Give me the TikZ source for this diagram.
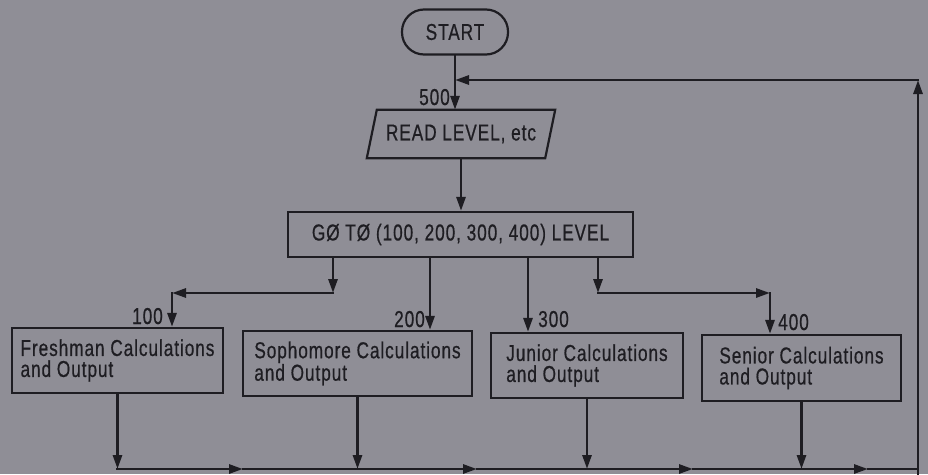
\documentclass[tikz,border=0pt]{standalone}
\usepackage{fontspec}
\setmainfont{Liberation Sans}[FakeStretch=0.75,FakeBold=0.6,LetterSpace=4]
\usetikzlibrary{arrows.meta,calc}
\definecolor{bg}{HTML}{8F8E96}
\definecolor{ink}{HTML}{1E1D22}
\begin{document}
\begin{tikzpicture}[x=1pt,y=-1pt,
  every node/.style={text=ink, font=\fontsize{23}{21}\selectfont},
  box/.style={draw=ink, line width=2.2pt, rectangle, align=left, inner sep=0pt},
  ln/.style={draw=ink, line width=2.8pt, line cap=rect},
  arr/.style={ln, -{Triangle[length=14pt,width=9pt]}},
  lbl/.style={inner sep=0pt, anchor=base east}]
\fill[bg] (0,0) rectangle (928,474);
\useasboundingbox (0,0) rectangle (928,474);

\node[draw=ink, line width=2.2pt, rounded corners=22pt, minimum width=106pt, minimum height=45pt] (start) at (455,32) {START};
\node[inner sep=0pt, minimum width=178pt, minimum height=48pt] (read) at (461,134) {READ LEVEL, etc};
\draw[ink, line width=2.2pt] ($(read.south west)+(-5,0)$) -- ($(read.north west)+(5,0)$) -- ($(read.north east)+(5,0)$) -- ($(read.south east)+(-5,0)$) -- cycle;
\node[box, minimum width=345pt, minimum height=45pt] (goto) at (460.5,234.5) {GØ TØ (100, 200, 300, 400) LEVEL};

\node[box, minimum width=211pt, minimum height=65pt] (fresh) at (117.5,360.5) {Freshman Calculations\\and Output};
\node[box, minimum width=229pt, minimum height=65pt] (soph) at (357.5,363.5) {Sophomore Calculations\\and Output};
\node[box, minimum width=192pt, minimum height=65pt] (junior) at (587,365.5) {Junior Calculations\\and Output};
\node[box, minimum width=199pt, minimum height=66pt] (senior) at (801.5,368) {Senior Calculations\\and Output};

\node[lbl] (l500) at (450,105) {500};
\node[lbl] (l100) at (163,324) {100};
\node[lbl] (l200) at (425,327) {200};
\node[lbl, anchor=base west] (l300) at (538,327) {300};
\node[lbl, anchor=base west] (l400) at (778,330) {400};

\coordinate (b1k) at (333,293);
\coordinate (b1c) at (172,293);
\coordinate (x2) at (430,300);
\coordinate (x3) at (528,300);
\coordinate (b4k) at (598,293);
\coordinate (b4c) at (770,293);
\coordinate (br) at (918,469);
\coordinate (bot) at (918,474);
\coordinate (tr) at (918,80);
\coordinate (m1) at (243,469);
\coordinate (m2) at (477,469);
\coordinate (m3) at (693,469);
\coordinate (m4) at (868,469);

\draw[arr] (start.south) -- (start.south |- read.north);
\draw[arr] (read.south) -- (read.south |- goto.north);

\draw[arr] (b1k |- goto.south) -- (b1k);
\draw[arr] (b1k) -- (b1c);
\draw[arr] (b1c) -- (b1c |- fresh.north);
\draw[arr] (x2 |- goto.south) -- (x2 |- soph.north);
\draw[arr] (x3 |- goto.south) -- (x3 |- junior.north);
\draw[arr] (b4k |- goto.south) -- (b4k);
\draw[arr] (b4k) -- (b4c);
\draw[arr] (b4c) -- (b4c |- senior.north);

\draw[arr] (fresh.south) -- (fresh.south |- br);
\draw[arr] (soph.south) -- (soph.south |- br);
\draw[arr] (junior.south) -- (junior.south |- br);
\draw[arr] (senior.south) -- (senior.south |- br);

\draw[arr] (fresh.south |- br) -- (m1);
\draw[arr] (m1) -- (m2);
\draw[arr] (m2) -- (m3);
\draw[arr] (m3) -- (m4);
\draw[ln] (m4) -- (br);
\draw[arr] (bot) -- (tr);
\draw[arr] (tr) -- (tr -| start.south);
\end{tikzpicture}
\end{document}
